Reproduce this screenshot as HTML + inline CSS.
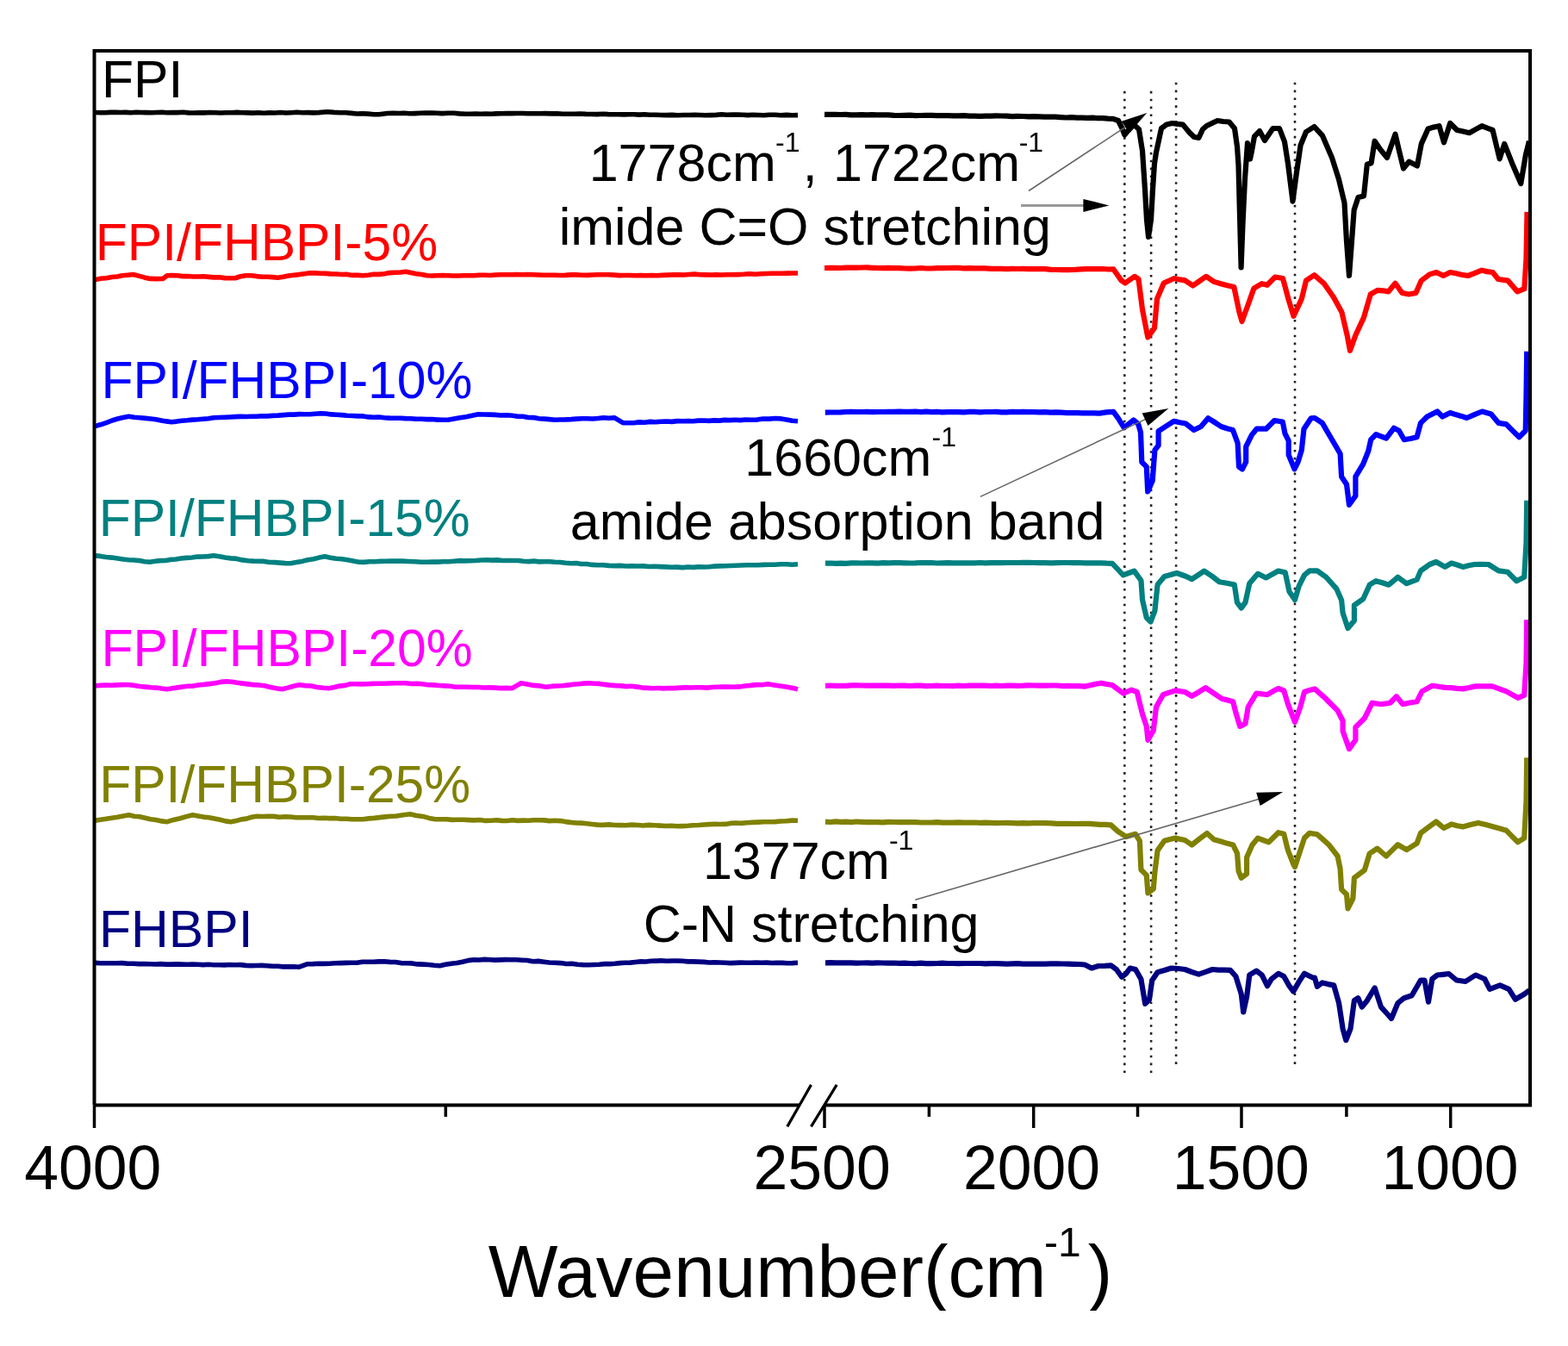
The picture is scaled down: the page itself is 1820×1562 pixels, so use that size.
<!DOCTYPE html>
<html><head><meta charset="utf-8"><title>FTIR spectra</title>
<style>html,body{margin:0;padding:0;background:#fff;overflow:hidden;}svg{display:block;}</style>
</head><body>
<svg width="1820" height="1562" viewBox="0 0 1820 1562">
<defs><clipPath id="clipb"><rect x="0" y="0" width="1820" height="1521"/></clipPath><clipPath id="plot"><rect x="111" y="61" width="1663" height="1220"/></clipPath></defs>
<rect width="1820" height="1562" fill="#fff"/>
<line x1="1305.3" y1="105.8" x2="1305.3" y2="1245.5" stroke="#222" stroke-width="2.6" stroke-dasharray="2.6 6.28"/>
<line x1="1336.1" y1="105.8" x2="1336.1" y2="1245.5" stroke="#222" stroke-width="2.6" stroke-dasharray="2.6 6.28"/>
<line x1="1365.1" y1="95.7" x2="1365.1" y2="1235.4" stroke="#222" stroke-width="2.6" stroke-dasharray="2.6 6.28"/>
<line x1="1503.0" y1="95.7" x2="1503.0" y2="1235.4" stroke="#222" stroke-width="2.6" stroke-dasharray="2.6 6.28"/>
<g fill="none" stroke-width="6.2" stroke-linejoin="round" stroke-linecap="butt" clip-path="url(#plot)">
<path d="M110.0,130.5 L116.0,130.8 L122.0,130.7 L128.0,130.4 L134.0,130.3 L140.0,130.5 L146.0,130.4 L152.0,130.7 L158.0,130.3 L164.0,130.5 L170.0,130.6 L176.0,130.8 L182.0,130.5 L188.0,130.3 L194.0,130.7 L200.0,130.5 L206.2,130.6 L212.5,130.3 L218.8,130.9 L225.0,131.0 L231.2,130.8 L237.5,130.9 L243.8,130.5 L250.0,130.8 L256.2,131.0 L262.5,130.8 L268.8,130.7 L275.0,130.4 L281.2,130.7 L287.5,130.9 L293.8,131.1 L300.0,130.8 L306.4,131.2 L312.7,130.7 L319.1,131.0 L325.5,130.5 L331.8,131.0 L338.2,130.7 L344.5,130.3 L350.9,130.8 L357.3,130.6 L363.6,130.9 L370.0,130.6 L380.0,129.8 L387.5,130.4 L395.0,130.8 L401.4,130.7 L407.9,131.4 L414.3,132.0 L420.7,131.7 L427.1,132.1 L433.6,132.8 L440.0,132.8 L450.0,131.5 L456.4,131.2 L462.7,131.5 L469.1,131.2 L475.5,131.8 L481.8,131.6 L488.2,131.3 L494.5,131.0 L500.9,131.1 L507.3,131.3 L513.6,131.6 L520.0,131.2 L526.7,131.2 L533.3,131.9 L540.0,132.2 L546.0,132.3 L552.0,132.1 L558.0,132.2 L564.0,132.0 L570.0,132.2 L576.0,131.9 L582.0,131.8 L588.0,131.6 L594.0,131.6 L600.0,131.5 L606.7,131.5 L613.3,131.8 L620.0,131.8 L626.7,131.7 L633.3,131.6 L640.0,131.9 L646.7,131.7 L653.3,132.2 L660.0,132.3 L666.7,132.2 L673.3,132.0 L680.0,132.4 L686.7,132.5 L693.3,132.6 L700.0,132.2 L706.0,132.6 L712.0,132.7 L718.0,132.8 L724.0,132.9 L730.0,132.7 L736.0,132.7 L742.0,133.1 L748.0,132.8 L754.0,133.3 L760.0,133.2 L766.7,133.5 L773.3,133.6 L780.0,133.4 L786.7,133.8 L793.3,133.5 L800.0,133.5 L806.2,133.4 L812.5,133.5 L818.8,133.7 L825.0,133.6 L831.2,133.4 L837.5,132.8 L843.8,133.2 L850.0,133.0 L856.0,133.1 L862.0,133.3 L868.0,133.6 L874.0,133.2 L880.0,133.5 L886.6,133.7 L893.1,133.2 L899.7,133.3 L906.3,133.8 L912.9,133.4 L919.4,133.8 L926.0,133.6" stroke="#000000" stroke-width="5.6"/>
<path d="M957.0,132.8 L963.1,132.9 L969.3,132.9 L975.4,133.0 L981.6,132.9 L987.7,133.3 L993.9,133.3 L1000.0,133.2 L1006.2,133.4 L1012.5,133.1 L1018.8,133.4 L1025.0,133.4 L1031.2,133.4 L1037.5,133.9 L1043.8,134.0 L1050.0,133.8 L1056.2,133.6 L1062.5,134.1 L1068.8,134.0 L1075.0,133.9 L1081.2,133.9 L1087.5,134.2 L1093.8,134.1 L1100.0,134.2 L1106.2,134.4 L1112.5,134.4 L1118.8,134.1 L1125.0,134.6 L1131.2,134.7 L1137.5,134.8 L1143.8,134.6 L1150.0,134.6 L1156.2,134.4 L1162.5,134.5 L1168.8,134.6 L1175.0,135.2 L1181.2,134.9 L1187.5,135.0 L1193.8,135.4 L1200.0,135.2 L1206.2,135.3 L1212.5,135.6 L1218.8,135.7 L1225.0,135.6 L1231.2,136.1 L1237.5,136.5 L1243.8,136.2 L1250.0,136.6 L1256.0,136.6 L1262.0,136.8 L1268.0,136.7 L1274.0,137.1 L1280.0,137.2 L1286.0,137.7 L1292.0,137.8 L1298.0,140.0 L1302.0,148.0 L1305.3,156.5 L1309.0,152.0 L1316.0,144.6 L1322.0,150.0 L1326.0,175.0 L1329.0,220.0 L1331.0,255.0 L1333.0,275.0 L1336.0,255.0 L1338.0,220.0 L1340.0,190.0 L1342.0,176.8 L1348.0,149.0 L1354.0,144.5 L1360.6,143.0 L1366.8,143.9 L1373.0,144.6 L1380.6,153.8 L1386.0,159.0 L1391.4,160.0 L1396.0,150.0 L1400.6,146.0 L1406.8,143.0 L1413.0,140.0 L1419.8,141.0 L1426.7,141.5 L1433.0,149.0 L1436.0,170.0 L1437.5,192.0 L1439.0,250.0 L1440.6,310.5 L1442.5,260.0 L1445.0,207.6 L1448.0,166.0 L1451.0,184.5 L1453.0,175.0 L1456.0,158.4 L1462.0,152.0 L1468.0,163.0 L1477.5,149.0 L1485.0,149.0 L1491.0,164.5 L1495.0,190.0 L1500.5,233.7 L1505.0,200.0 L1509.6,168.5 L1516.0,153.0 L1525.5,147.0 L1535.0,157.4 L1546.0,182.9 L1554.0,208.3 L1560.5,235.4 L1563.0,280.0 L1566.0,319.9 L1569.0,280.0 L1571.7,243.4 L1576.5,229.0 L1583.0,227.5 L1586.8,190.8 L1591.6,189.2 L1595.6,163.7 L1602.0,173.3 L1610.0,182.9 L1619.5,155.8 L1624.0,175.0 L1629.0,195.6 L1635.4,187.6 L1645.0,192.4 L1649.8,166.9 L1657.7,149.4 L1664.1,147.6 L1670.5,146.2 L1676.0,165.3 L1683.2,143.0 L1691.2,151.0 L1698.3,152.6 L1705.5,154.2 L1712.8,150.1 L1720.0,146.2 L1726.3,148.7 L1732.6,151.0 L1740.6,184.4 L1746.2,166.9 L1755.0,189.2 L1765.3,213.1 L1770.9,179.7 L1774.9,163.7" stroke="#000000"/>
<path d="M110.0,324.7 L116.7,323.3 L123.3,322.8 L130.0,321.5 L136.1,321.0 L142.2,319.8 L148.3,319.2 L154.4,318.5 L160.9,320.1 L167.5,321.9 L174.0,323.4 L181.5,323.6 L189.0,323.4 L194.0,319.7 L200.0,319.6 L206.0,319.8 L212.0,320.6 L218.0,320.5 L224.0,321.0 L230.0,321.0 L236.1,320.8 L242.3,321.4 L248.4,321.9 L254.6,321.8 L260.7,322.6 L266.9,322.8 L273.0,322.7 L279.2,320.8 L285.5,319.7 L291.7,319.7 L297.8,320.6 L304.0,321.3 L310.2,321.3 L316.3,321.6 L322.5,322.2 L328.7,321.2 L334.9,320.0 L341.1,319.3 L347.2,318.6 L353.4,317.7 L359.6,316.8 L365.8,316.9 L372.0,317.2 L378.1,317.4 L384.3,317.9 L390.5,318.0 L396.7,318.5 L402.9,318.4 L409.1,319.4 L415.3,319.4 L421.5,319.7 L427.7,319.3 L433.9,318.3 L440.1,318.4 L446.2,317.8 L452.4,316.6 L458.6,316.3 L464.8,316.0 L471.0,315.3 L477.1,316.6 L483.3,317.8 L489.5,318.5 L495.6,319.7 L501.6,320.0 L507.7,319.8 L513.7,319.5 L519.8,319.8 L525.8,320.0 L531.9,320.0 L537.9,319.7 L544.0,319.8 L550.0,319.7 L556.2,319.2 L562.5,319.2 L568.8,319.5 L575.0,319.0 L581.2,318.7 L587.5,318.8 L593.8,318.8 L600.0,318.5 L606.2,318.8 L612.5,318.6 L618.8,318.8 L625.0,319.0 L631.2,319.3 L637.5,319.3 L643.8,319.3 L650.0,319.5 L656.2,319.4 L662.5,318.9 L668.8,318.9 L675.0,319.3 L681.2,319.4 L687.5,319.0 L693.8,318.8 L700.0,318.8 L706.2,318.7 L712.5,319.1 L718.8,319.6 L725.0,319.5 L731.2,319.5 L737.5,319.8 L743.8,319.5 L750.0,319.8 L756.2,319.6 L762.5,319.8 L768.8,319.4 L775.0,319.1 L781.2,318.8 L787.5,318.9 L793.8,319.0 L800.0,318.5 L806.2,318.1 L812.5,318.8 L818.8,318.9 L825.0,319.0 L831.2,318.9 L837.5,319.0 L843.8,318.8 L850.0,318.8 L856.7,318.6 L863.3,318.3 L870.0,317.8 L876.7,318.2 L883.3,317.8 L890.0,317.5 L896.0,317.2 L902.0,317.3 L908.0,317.2 L914.0,317.1 L920.0,317.0 L926.0,317.0" stroke="#ff0000" stroke-width="5.6"/>
<path d="M957.0,311.0 L963.1,310.9 L969.3,310.9 L975.4,311.0 L981.6,310.7 L987.7,310.6 L993.9,310.6 L1000.0,310.5 L1006.2,310.4 L1012.5,310.8 L1018.8,311.0 L1025.0,311.2 L1031.2,310.9 L1037.5,311.1 L1043.8,311.1 L1050.0,311.5 L1056.2,311.6 L1062.5,311.5 L1068.8,311.0 L1075.0,311.5 L1081.2,311.5 L1087.5,311.2 L1093.8,311.1 L1100.0,311.0 L1106.2,310.9 L1112.5,310.9 L1118.8,311.3 L1125.0,311.1 L1131.2,311.3 L1137.5,311.4 L1143.8,311.4 L1150.0,311.8 L1156.2,311.8 L1162.5,311.8 L1168.8,312.1 L1175.0,311.9 L1181.2,312.0 L1187.5,311.9 L1193.8,312.1 L1200.0,312.0 L1206.7,312.2 L1213.3,312.2 L1220.0,312.8 L1226.7,313.0 L1233.3,313.1 L1240.0,313.1 L1247.7,312.8 L1255.4,312.3 L1261.6,312.2 L1267.7,312.1 L1273.8,312.2 L1280.0,312.0 L1286.2,312.5 L1292.3,312.3 L1301.5,325.4 L1306.0,328.5 L1317.0,320.8 L1321.5,323.8 L1326.0,359.2 L1332.3,391.5 L1340.0,380.8 L1343.0,346.9 L1350.8,328.5 L1356.9,325.7 L1363.0,323.0 L1369.2,324.4 L1375.4,325.4 L1384.6,331.5 L1392.3,326.1 L1400.0,320.8 L1409.0,326.9 L1416.8,329.2 L1424.5,331.2 L1432.3,333.0 L1438.5,362.3 L1441.5,373.0 L1447.7,356.2 L1455.4,334.6 L1464.6,329.2 L1470.8,330.8 L1480.0,321.5 L1489.0,323.0 L1495.4,346.9 L1501.5,366.9 L1510.8,346.9 L1516.0,325.6 L1525.5,319.2 L1536.6,328.8 L1547.8,344.7 L1557.4,362.3 L1563.7,389.3 L1567.0,406.9 L1573.3,389.3 L1582.9,368.6 L1590.8,341.5 L1598.8,336.8 L1605.2,337.3 L1611.5,338.4 L1619.5,328.8 L1627.5,340.0 L1635.4,341.5 L1643.4,340.0 L1649.8,325.6 L1659.3,318.4 L1667.3,316.0 L1675.3,320.0 L1683.2,316.0 L1690.1,317.2 L1697.1,318.9 L1704.0,320.0 L1712.0,316.8 L1719.9,313.7 L1726.2,315.1 L1732.6,316.0 L1739.0,324.0 L1750.2,325.6 L1761.3,338.4 L1769.3,335.2 L1771.5,300.0 L1772.5,245.9" stroke="#ff0000"/>
<path d="M110.0,494.6 L116.7,492.8 L123.3,490.6 L130.0,488.0 L136.5,486.0 L143.0,484.5 L149.5,483.2 L155.9,484.2 L162.2,484.8 L168.6,485.4 L175.0,486.0 L181.0,486.8 L187.0,487.9 L193.0,488.9 L199.0,489.7 L205.1,489.1 L211.2,488.2 L217.4,487.8 L223.5,487.1 L229.6,486.8 L235.8,486.3 L241.9,485.7 L248.0,484.7 L254.2,484.5 L260.5,484.3 L266.8,484.0 L273.0,483.6 L279.2,483.4 L285.5,483.5 L291.8,483.2 L298.0,483.2 L304.2,482.8 L310.3,482.9 L316.5,482.4 L322.7,482.1 L328.8,481.6 L335.0,481.1 L341.2,481.1 L347.3,480.6 L353.5,480.7 L359.7,480.8 L365.8,480.2 L372.0,479.8 L378.2,480.0 L384.3,480.9 L390.5,481.3 L396.7,481.6 L402.8,482.2 L409.0,482.5 L415.2,482.9 L421.3,482.9 L427.5,483.9 L433.7,484.3 L439.8,484.0 L446.0,484.7 L452.2,485.1 L458.3,485.3 L464.5,485.3 L470.7,485.6 L476.8,485.7 L483.0,486.3 L489.2,486.2 L495.3,486.6 L501.5,486.5 L507.7,487.1 L513.8,487.3 L520.0,487.2 L527.0,485.9 L534.0,484.7 L541.0,483.7 L548.0,482.3 L555.0,480.8 L561.6,481.0 L568.2,481.1 L574.8,481.4 L581.4,482.0 L588.0,481.8 L594.6,482.3 L600.8,483.2 L607.0,483.3 L613.1,484.5 L619.3,484.6 L625.5,485.7 L631.6,486.1 L637.8,486.6 L644.0,487.2 L650.3,487.0 L656.5,486.9 L662.8,486.6 L669.1,486.1 L675.4,485.8 L681.6,485.8 L687.9,486.0 L694.2,485.5 L700.5,484.8 L706.7,485.2 L713.0,484.7 L723.0,490.7 L729.3,490.7 L735.6,490.7 L741.9,489.9 L748.2,490.2 L754.5,489.4 L760.9,489.7 L767.2,489.2 L773.5,489.0 L779.8,489.4 L786.1,488.6 L792.4,488.7 L798.5,488.6 L804.6,488.8 L810.7,488.1 L816.7,488.0 L822.8,488.4 L828.9,487.9 L835.0,488.1 L841.1,487.4 L847.2,487.6 L853.2,487.3 L859.3,487.6 L865.4,487.0 L871.5,487.2 L878.6,487.1 L885.8,486.0 L892.9,486.1 L900.0,485.5 L906.5,485.9 L913.0,486.9 L919.5,488.2 L926.0,488.7" stroke="#0000ff" stroke-width="5.6"/>
<path d="M957.8,478.6 L963.8,478.5 L969.9,478.5 L975.9,478.4 L981.9,478.0 L987.9,477.9 L994.0,478.0 L1000.0,478.0 L1006.2,477.8 L1012.5,478.1 L1018.8,478.0 L1025.0,478.0 L1031.2,477.9 L1037.5,477.9 L1043.8,477.6 L1050.0,477.8 L1056.2,477.8 L1062.5,477.7 L1068.8,478.2 L1075.0,477.7 L1081.2,478.2 L1087.5,477.8 L1093.8,478.3 L1100.0,478.2 L1106.2,478.1 L1112.5,478.1 L1118.8,478.3 L1125.0,477.8 L1131.2,477.8 L1137.5,478.3 L1143.8,478.0 L1150.0,478.0 L1156.2,477.8 L1162.5,478.3 L1168.8,478.3 L1175.0,477.9 L1181.2,478.1 L1187.5,477.9 L1193.8,478.1 L1200.0,478.2 L1206.3,478.4 L1212.7,478.2 L1219.0,478.7 L1225.3,478.4 L1231.7,478.6 L1238.0,479.1 L1244.3,479.0 L1250.7,479.1 L1257.0,479.3 L1263.3,479.4 L1269.7,479.4 L1276.0,479.6 L1284.2,478.4 L1292.4,477.8 L1297.9,485.3 L1304.7,496.3 L1315.7,487.4 L1321.2,492.2 L1324.0,501.8 L1325.3,536.2 L1330.8,541.6 L1332.2,570.5 L1337.7,558.1 L1340.4,522.4 L1344.6,516.9 L1344.6,500.4 L1352.8,495.0 L1362.4,488.8 L1369.3,490.3 L1376.2,491.5 L1385.8,499.0 L1394.0,495.0 L1402.3,485.3 L1409.0,489.5 L1417.4,495.0 L1424.2,497.3 L1431.0,499.0 L1436.6,514.2 L1438.0,541.6 L1442.0,544.4 L1446.2,536.2 L1446.2,518.3 L1453.0,504.6 L1458.6,497.7 L1469.6,497.7 L1479.2,488.0 L1488.8,489.5 L1491.5,503.2 L1495.7,511.4 L1495.7,527.9 L1502.5,544.4 L1506.6,536.2 L1510.8,522.4 L1513.5,497.7 L1521.8,485.3 L1526.0,485.0 L1534.8,490.9 L1545.2,508.7 L1555.6,526.5 L1557.1,553.2 L1563.0,562.0 L1566.0,585.8 L1573.4,575.4 L1573.4,553.2 L1582.3,538.3 L1588.2,523.5 L1591.2,510.2 L1597.1,504.2 L1609.0,508.7 L1617.9,496.8 L1623.8,499.8 L1629.8,510.2 L1637.2,509.0 L1644.6,507.2 L1649.0,490.9 L1656.5,483.5 L1668.3,477.5 L1674.3,483.5 L1683.2,479.0 L1689.6,481.1 L1696.1,482.9 L1702.5,485.0 L1711.4,481.2 L1720.3,477.5 L1730.7,480.5 L1739.5,490.9 L1748.4,492.4 L1755.8,499.9 L1763.3,507.2 L1770.7,499.8 L1771.5,460.0 L1772.2,407.8" stroke="#0000ff"/>
<path d="M110.0,644.8 L116.6,645.4 L123.2,646.5 L129.8,647.1 L136.3,648.1 L142.9,649.0 L149.5,649.7 L155.6,650.0 L161.8,650.6 L167.9,651.8 L174.0,652.2 L180.0,651.3 L186.0,650.6 L192.0,650.5 L198.0,649.4 L204.0,649.0 L210.0,648.0 L216.3,647.4 L222.7,647.0 L229.0,646.1 L235.3,646.0 L241.7,645.6 L248.0,644.8 L254.7,645.8 L261.3,647.0 L268.0,647.9 L274.7,648.4 L281.3,649.9 L288.0,650.7 L294.2,651.1 L300.4,651.3 L306.5,651.4 L312.7,652.5 L318.9,652.6 L325.0,653.1 L331.2,653.6 L337.4,653.7 L344.0,652.6 L350.6,651.4 L357.2,649.7 L363.8,648.7 L370.4,647.1 L377.0,645.8 L383.6,647.2 L390.2,648.2 L396.8,648.7 L403.3,649.8 L409.9,650.9 L416.5,652.2 L422.7,652.4 L428.9,651.8 L435.1,651.8 L441.4,651.4 L447.6,651.3 L453.8,651.1 L460.0,651.0 L467.1,651.1 L474.2,651.5 L481.4,651.8 L488.5,652.3 L495.6,652.2 L501.9,652.1 L508.2,652.1 L514.5,651.8 L520.8,651.7 L527.1,651.2 L533.5,650.6 L539.8,650.9 L546.1,650.8 L552.4,650.5 L558.7,650.0 L565.0,649.7 L571.1,650.1 L577.2,649.9 L583.2,650.5 L589.3,650.5 L595.4,650.5 L601.5,650.5 L607.5,651.3 L613.6,651.6 L619.7,651.1 L625.8,651.9 L631.8,651.7 L637.9,651.7 L644.0,652.2 L650.2,652.5 L656.4,653.3 L662.6,653.8 L668.8,653.6 L674.9,654.5 L681.1,654.5 L687.3,655.4 L693.5,655.7 L700.1,655.8 L706.8,656.4 L713.4,656.6 L720.1,656.4 L726.7,657.0 L733.4,656.7 L740.0,657.0 L746.5,656.9 L753.1,657.5 L759.6,657.2 L766.2,657.6 L772.8,657.9 L779.3,658.3 L785.9,658.1 L792.4,658.6 L798.6,658.0 L804.8,658.4 L811.0,657.7 L817.1,658.0 L823.3,657.7 L829.5,657.1 L835.7,656.9 L841.9,656.7 L848.0,656.5 L854.2,656.3 L860.4,656.0 L866.6,655.7 L873.2,655.7 L879.8,655.8 L886.4,655.4 L893.0,655.2 L899.6,655.3 L906.2,654.8 L912.8,654.8 L919.4,655.2 L926.0,654.7" stroke="#008080" stroke-width="5.6"/>
<path d="M958.0,653.7 L964.0,653.5 L970.0,653.8 L976.0,653.7 L982.0,653.8 L988.0,653.4 L994.0,653.4 L1000.0,653.5 L1006.2,653.3 L1012.5,653.3 L1018.8,653.6 L1025.0,653.2 L1031.2,653.4 L1037.5,653.2 L1043.8,653.2 L1050.0,653.3 L1056.2,653.5 L1062.5,653.4 L1068.8,653.0 L1075.0,653.1 L1081.2,653.0 L1087.5,653.5 L1093.8,653.4 L1100.0,653.2 L1106.2,653.4 L1112.5,653.4 L1118.8,653.3 L1125.0,653.4 L1131.2,653.3 L1137.5,653.0 L1143.8,653.3 L1150.0,653.1 L1156.2,653.2 L1162.5,653.1 L1168.8,653.0 L1175.0,653.0 L1181.2,653.0 L1187.5,652.9 L1193.8,652.8 L1200.0,653.0 L1206.7,653.2 L1213.3,653.2 L1220.0,653.3 L1226.7,653.1 L1233.3,653.0 L1240.0,653.0 L1246.4,653.2 L1252.8,653.0 L1259.1,653.4 L1265.5,653.4 L1271.9,653.3 L1278.2,653.4 L1284.6,653.7 L1291.0,653.8 L1297.3,660.5 L1303.7,667.4 L1310.1,665.0 L1316.5,662.6 L1324.5,673.7 L1326.0,696.0 L1330.8,716.8 L1335.6,721.5 L1340.4,708.8 L1343.6,678.5 L1351.5,669.0 L1358.7,667.1 L1365.9,665.0 L1377.0,669.0 L1383.4,672.1 L1390.6,667.3 L1397.7,662.6 L1407.3,669.0 L1415.3,675.3 L1424.0,676.7 L1432.8,678.5 L1436.0,699.2 L1440.8,705.6 L1445.5,699.2 L1450.3,677.0 L1460.0,665.8 L1469.4,670.5 L1476.6,666.5 L1483.8,662.6 L1491.7,664.2 L1496.5,686.5 L1503.0,696.0 L1507.7,680.1 L1514.0,667.4 L1520.0,662.4 L1528.9,662.4 L1539.3,669.8 L1551.2,683.1 L1557.1,696.5 L1558.6,711.3 L1564.5,729.1 L1571.9,720.2 L1571.9,702.4 L1582.3,695.0 L1589.7,678.7 L1597.1,674.2 L1604.5,676.3 L1612.0,678.7 L1622.4,669.8 L1632.7,677.2 L1644.6,672.7 L1649.0,662.4 L1659.4,655.0 L1666.9,652.0 L1677.2,657.9 L1684.7,653.5 L1691.3,655.5 L1698.0,657.9 L1704.7,656.3 L1711.4,655.0 L1719.6,654.9 L1727.7,655.0 L1739.5,662.4 L1749.9,663.8 L1760.3,674.2 L1769.2,669.8 L1771.5,630.0 L1772.2,580.8" stroke="#008080"/>
<path d="M110.0,795.8 L116.6,795.4 L123.2,795.1 L129.8,795.2 L136.3,794.9 L142.9,794.6 L149.5,794.8 L155.9,795.4 L162.2,796.5 L168.6,797.1 L174.9,797.8 L181.3,798.1 L187.6,799.0 L194.0,799.7 L200.0,798.7 L206.0,797.9 L212.0,797.0 L218.0,796.3 L224.0,796.1 L230.0,795.0 L236.6,794.4 L243.2,793.6 L249.8,792.7 L256.4,791.4 L263.0,790.8 L269.2,791.3 L275.3,792.3 L281.5,793.1 L287.7,793.9 L293.8,794.6 L300.0,795.0 L306.9,795.8 L313.8,797.4 L320.6,798.7 L327.5,799.7 L334.1,798.1 L340.7,796.2 L347.3,794.8 L354.2,795.6 L361.2,796.0 L368.1,797.5 L375.1,798.2 L382.0,798.7 L388.1,797.5 L394.3,796.1 L400.5,795.4 L406.6,793.8 L413.0,793.8 L419.5,793.9 L425.9,793.8 L432.4,793.4 L438.8,793.2 L445.2,793.3 L451.7,793.0 L458.1,792.7 L464.6,792.7 L471.0,792.8 L477.4,793.5 L483.8,793.3 L490.2,793.8 L496.6,794.7 L503.0,794.9 L509.4,795.5 L515.8,795.9 L522.2,796.3 L528.6,797.2 L535.0,797.3 L541.6,797.2 L548.2,797.5 L554.9,797.5 L561.5,798.0 L568.1,797.9 L574.7,798.1 L581.4,798.6 L588.0,798.4 L594.6,798.7 L604.5,792.8 L611.9,794.0 L619.2,795.4 L626.6,795.9 L634.0,797.3 L640.2,796.4 L646.4,796.0 L652.6,795.8 L658.8,795.1 L665.0,794.3 L671.2,793.8 L677.4,793.1 L683.6,792.8 L689.8,793.3 L696.0,793.4 L702.1,794.4 L708.3,795.1 L714.5,795.6 L720.7,795.9 L726.9,796.6 L733.1,796.3 L739.2,797.1 L745.4,798.1 L751.6,798.4 L757.8,798.7 L764.1,798.5 L770.3,798.9 L776.6,798.5 L782.8,798.6 L789.1,798.1 L795.4,797.9 L801.6,798.0 L807.9,797.7 L814.1,797.8 L820.4,798.1 L826.7,797.5 L832.9,797.2 L839.2,797.1 L845.4,797.1 L851.7,797.3 L858.3,796.9 L864.9,796.0 L871.5,795.4 L878.1,794.6 L884.7,794.8 L891.3,793.8 L898.2,794.9 L905.2,795.9 L912.1,797.0 L919.1,798.2 L926.0,799.7" stroke="#ff00ff" stroke-width="5.6"/>
<path d="M958.0,795.8 L964.0,795.5 L970.0,795.8 L976.0,795.8 L982.0,795.9 L988.0,795.4 L994.0,795.4 L1000.0,795.5 L1006.2,795.7 L1012.5,795.7 L1018.8,795.5 L1025.0,795.7 L1031.2,795.6 L1037.5,795.9 L1043.8,795.5 L1050.0,795.6 L1056.2,796.0 L1062.5,795.7 L1068.8,795.7 L1075.0,796.1 L1081.2,796.0 L1087.5,795.7 L1093.8,796.0 L1100.0,796.0 L1106.2,796.1 L1112.5,795.7 L1118.8,796.0 L1125.0,795.6 L1131.2,795.7 L1137.5,795.6 L1143.8,795.6 L1150.0,796.0 L1156.2,795.7 L1162.5,796.0 L1168.8,795.6 L1175.0,795.7 L1181.2,795.8 L1187.5,795.7 L1193.8,795.3 L1200.0,795.5 L1206.7,795.6 L1213.3,795.7 L1220.0,795.5 L1226.7,795.5 L1233.3,796.1 L1240.0,795.9 L1246.3,796.1 L1252.7,796.2 L1259.0,796.6 L1265.4,795.3 L1271.8,793.8 L1278.2,792.7 L1284.6,794.0 L1291.0,795.0 L1297.3,799.8 L1303.7,804.6 L1313.3,800.6 L1319.7,803.0 L1326.0,828.5 L1330.8,842.9 L1332.4,858.8 L1338.8,847.6 L1342.0,820.5 L1350.0,806.2 L1357.2,803.6 L1364.3,801.4 L1375.4,803.0 L1383.4,807.8 L1391.3,803.2 L1399.3,798.2 L1409.0,804.6 L1418.5,811.0 L1424.8,812.4 L1431.2,814.2 L1434.4,826.9 L1439.2,842.9 L1445.5,839.7 L1448.7,820.5 L1458.3,804.6 L1464.7,805.3 L1471.0,806.2 L1477.4,802.3 L1483.8,799.0 L1490.2,801.4 L1495.0,817.4 L1503.0,838.0 L1509.3,820.5 L1514.0,803.0 L1520.0,800.9 L1526.0,799.4 L1537.8,809.8 L1545.2,817.3 L1552.6,824.6 L1558.6,836.5 L1558.6,848.3 L1566.0,869.1 L1573.4,858.7 L1573.4,843.9 L1583.8,833.5 L1592.7,815.7 L1603.0,817.2 L1613.5,815.7 L1620.9,808.3 L1628.3,817.2 L1636.4,815.5 L1644.6,814.2 L1650.5,802.4 L1662.4,795.7 L1669.8,796.8 L1677.2,797.9 L1684.1,798.2 L1691.1,798.9 L1698.0,799.4 L1705.4,798.0 L1712.8,796.4 L1719.2,796.4 L1725.6,796.4 L1732.0,796.4 L1740.2,799.4 L1748.5,802.4 L1755.2,806.1 L1761.8,809.8 L1769.2,806.8 L1771.5,770.0 L1772.2,719.3" stroke="#ff00ff"/>
<path d="M110.0,952.2 L116.6,951.2 L123.2,950.3 L129.8,949.2 L136.3,948.3 L142.9,947.1 L149.5,945.8 L155.9,947.3 L162.2,947.7 L168.6,949.2 L174.9,950.7 L181.3,951.6 L187.6,952.9 L194.0,953.7 L201.4,951.4 L208.8,949.7 L216.2,947.6 L223.6,945.8 L229.9,947.0 L236.3,948.1 L242.6,948.8 L249.0,950.1 L255.3,951.3 L261.7,952.9 L268.0,953.7 L274.0,952.6 L280.0,950.9 L286.0,950.1 L292.0,948.3 L298.0,947.3 L304.6,947.5 L311.1,947.3 L317.7,947.4 L324.2,948.2 L330.8,947.8 L337.3,948.0 L343.9,948.8 L350.4,948.8 L357.0,948.7 L363.4,948.7 L369.9,949.5 L376.4,949.3 L382.8,949.6 L389.2,949.5 L395.7,950.3 L402.1,950.3 L408.6,950.7 L415.1,950.8 L421.5,950.7 L427.9,949.9 L434.3,949.4 L440.8,948.6 L447.2,947.9 L453.6,947.3 L460.0,947.0 L468.0,945.7 L476.0,944.8 L483.4,946.4 L490.8,947.4 L498.1,949.4 L505.5,950.7 L511.9,950.7 L518.4,950.8 L524.9,951.4 L531.3,951.3 L537.8,951.3 L544.2,951.6 L550.6,951.9 L557.1,951.5 L563.5,952.4 L570.0,952.2 L576.2,951.8 L582.3,952.4 L588.5,952.5 L594.7,951.8 L600.8,952.4 L607.0,952.1 L613.2,952.3 L619.3,951.8 L625.5,951.8 L631.7,951.9 L637.8,952.6 L644.0,952.2 L650.2,952.6 L656.4,953.6 L662.6,954.4 L668.8,955.0 L674.9,955.1 L681.1,955.8 L687.3,956.5 L693.5,957.1 L700.1,957.4 L706.8,956.9 L713.4,957.5 L720.1,957.6 L726.7,957.7 L733.4,957.1 L740.0,957.5 L746.5,958.0 L753.1,957.4 L759.6,957.8 L766.2,958.1 L772.8,958.5 L779.3,958.2 L785.9,958.8 L792.4,958.6 L798.6,958.3 L804.8,957.8 L811.0,957.5 L817.1,957.0 L823.3,956.6 L829.5,956.4 L835.7,956.5 L841.9,956.4 L848.0,955.4 L854.2,955.0 L860.4,955.4 L866.6,954.7 L873.2,954.4 L879.8,954.1 L886.4,953.7 L893.0,953.7 L899.6,953.6 L906.2,953.0 L912.8,952.7 L919.4,952.1 L926.0,952.2" stroke="#808000" stroke-width="5.6"/>
<path d="M958.0,953.7 L964.0,954.0 L970.0,953.4 L976.0,953.9 L982.0,953.6 L988.0,954.1 L994.0,953.5 L1000.0,953.8 L1006.2,954.1 L1012.5,954.0 L1018.8,954.1 L1025.0,954.3 L1031.2,953.9 L1037.5,954.0 L1043.8,954.2 L1050.0,954.0 L1056.2,954.1 L1062.5,954.1 L1068.8,954.5 L1075.0,954.5 L1081.2,954.5 L1087.5,954.2 L1093.8,954.7 L1100.0,954.5 L1106.2,954.6 L1112.5,954.4 L1118.8,954.6 L1125.0,954.6 L1131.2,954.5 L1137.5,954.8 L1143.8,954.7 L1150.0,954.9 L1156.2,955.2 L1162.5,955.0 L1168.8,954.9 L1175.0,955.2 L1181.2,955.4 L1187.5,955.1 L1193.8,955.4 L1200.0,955.2 L1206.7,955.0 L1213.3,955.2 L1220.0,955.4 L1226.7,955.9 L1233.3,955.9 L1240.0,955.9 L1248.0,956.0 L1255.9,955.8 L1263.9,955.9 L1270.3,956.3 L1276.7,956.9 L1283.0,956.8 L1289.4,957.4 L1297.4,964.6 L1307.0,971.0 L1318.0,967.8 L1322.9,975.8 L1324.4,1009.2 L1330.8,1015.6 L1332.4,1036.3 L1338.8,1031.5 L1340.4,1012.4 L1343.6,986.9 L1351.5,975.8 L1357.9,974.0 L1364.3,972.6 L1375.4,975.0 L1383.4,980.5 L1392.2,973.5 L1401.0,967.0 L1409.0,974.2 L1416.4,976.3 L1423.8,978.6 L1431.2,980.5 L1436.0,990.1 L1437.6,1010.8 L1440.8,1018.8 L1447.1,1014.0 L1447.1,994.9 L1453.5,980.5 L1459.9,972.6 L1466.2,975.0 L1472.6,977.4 L1483.8,966.2 L1490.2,967.8 L1495.0,986.9 L1501.3,1002.9 L1503.0,1006.0 L1509.3,986.9 L1514.0,972.6 L1520.0,966.8 L1528.9,968.3 L1535.6,974.2 L1542.3,980.2 L1552.6,993.5 L1555.6,1008.3 L1557.1,1032.1 L1563.0,1038.0 L1564.5,1054.3 L1570.4,1042.5 L1571.9,1018.7 L1583.8,1009.8 L1589.7,990.5 L1598.6,984.6 L1609.0,993.5 L1615.7,986.9 L1622.4,980.2 L1632.7,986.1 L1644.6,978.7 L1649.0,966.8 L1658.0,960.0 L1666.9,953.5 L1675.8,960.9 L1684.7,956.4 L1691.3,958.2 L1698.0,959.4 L1706.9,957.1 L1715.8,954.9 L1724.7,957.0 L1733.6,959.4 L1741.0,961.5 L1748.5,963.8 L1755.2,970.7 L1761.8,977.2 L1769.2,972.7 L1771.5,930.0 L1772.2,879.3" stroke="#808000"/>
<path d="M110.0,1117.3 L116.4,1117.7 L122.8,1117.8 L129.2,1117.7 L135.6,1117.7 L142.0,1117.6 L148.4,1118.3 L154.8,1118.3 L161.2,1118.6 L167.6,1118.5 L174.0,1118.7 L180.2,1119.0 L186.4,1118.6 L192.6,1119.1 L198.8,1119.1 L204.9,1118.9 L211.1,1119.1 L217.3,1119.3 L223.5,1119.0 L229.7,1119.3 L235.9,1119.6 L242.1,1119.2 L248.2,1119.7 L254.4,1119.7 L260.6,1119.9 L266.8,1119.5 L273.0,1119.7 L279.2,1119.6 L285.4,1120.4 L291.6,1120.6 L297.8,1120.5 L304.0,1120.4 L310.1,1120.7 L316.3,1121.3 L322.5,1121.2 L328.7,1121.9 L334.9,1121.9 L341.1,1121.8 L347.3,1122.2 L357.0,1118.7 L363.4,1118.6 L369.7,1118.2 L376.1,1118.4 L382.4,1118.2 L388.8,1117.7 L395.1,1117.6 L401.5,1117.4 L407.9,1117.3 L414.2,1117.2 L420.6,1116.3 L426.9,1116.3 L433.3,1116.3 L439.6,1115.9 L446.0,1115.8 L452.4,1116.4 L458.9,1116.5 L465.4,1117.6 L471.8,1117.8 L478.2,1117.9 L484.7,1118.9 L491.1,1119.1 L497.6,1119.5 L504.1,1120.2 L510.5,1120.7 L517.1,1119.3 L523.7,1118.2 L530.2,1117.5 L536.8,1116.3 L543.4,1114.6 L550.0,1113.8 L556.2,1114.0 L562.4,1113.4 L568.6,1113.7 L574.8,1114.1 L580.9,1113.9 L587.1,1113.6 L593.3,1113.7 L599.5,1113.8 L605.9,1114.2 L612.2,1114.5 L618.6,1115.7 L624.9,1115.4 L631.3,1116.2 L637.6,1117.0 L644.0,1117.3 L650.6,1117.6 L657.2,1118.5 L663.8,1118.3 L670.4,1119.3 L677.0,1119.6 L683.6,1119.7 L689.6,1119.5 L695.6,1119.3 L701.6,1118.6 L707.6,1118.6 L713.6,1118.2 L719.6,1117.6 L725.6,1117.2 L731.6,1117.1 L737.6,1116.5 L743.6,1115.9 L749.6,1116.0 L755.6,1115.3 L761.6,1115.1 L767.6,1114.8 L773.8,1115.2 L780.0,1115.0 L786.1,1115.0 L792.3,1115.3 L798.5,1115.9 L804.7,1115.9 L810.9,1116.1 L817.1,1116.4 L823.2,1117.0 L829.4,1116.7 L835.6,1117.0 L841.8,1117.3 L847.8,1117.6 L853.8,1117.4 L859.8,1117.1 L865.9,1117.3 L871.9,1117.3 L877.9,1117.0 L883.9,1117.2 L889.9,1117.1 L895.9,1117.5 L901.9,1117.2 L908.0,1117.4 L914.0,1117.7 L920.0,1117.6 L926.0,1117.3" stroke="#000080" stroke-width="5.6"/>
<path d="M958.0,1117.3 L964.0,1117.2 L970.0,1117.3 L976.0,1117.3 L982.0,1117.4 L988.0,1117.4 L994.0,1117.6 L1000.0,1117.5 L1006.2,1117.4 L1012.5,1117.6 L1018.8,1117.3 L1025.0,1117.5 L1031.2,1117.6 L1037.5,1117.5 L1043.8,1117.9 L1050.0,1117.6 L1056.2,1118.0 L1062.5,1118.1 L1068.8,1117.7 L1075.0,1118.1 L1081.2,1118.1 L1087.5,1118.0 L1093.8,1117.7 L1100.0,1118.0 L1106.2,1118.0 L1112.5,1118.1 L1118.8,1118.0 L1125.0,1118.0 L1131.2,1118.0 L1137.5,1118.0 L1143.8,1118.4 L1150.0,1118.2 L1156.2,1118.2 L1162.5,1118.4 L1168.8,1118.6 L1175.0,1118.3 L1181.2,1118.1 L1187.5,1118.7 L1193.8,1118.7 L1200.0,1118.5 L1206.7,1118.7 L1213.3,1118.6 L1220.0,1118.4 L1226.7,1118.4 L1233.3,1118.5 L1240.0,1118.7 L1246.4,1118.9 L1252.7,1119.0 L1259.1,1119.5 L1267.0,1123.5 L1275.0,1121.0 L1282.2,1120.8 L1289.4,1120.3 L1295.8,1125.0 L1302.1,1133.8 L1307.0,1129.8 L1311.7,1123.5 L1318.0,1125.0 L1324.4,1136.2 L1329.2,1164.9 L1334.0,1160.1 L1337.2,1137.8 L1343.6,1128.2 L1351.5,1126.0 L1359.5,1123.5 L1367.5,1124.0 L1375.4,1125.0 L1383.4,1128.0 L1391.4,1130.6 L1399.3,1127.8 L1407.3,1125.0 L1414.2,1125.6 L1421.1,1125.6 L1428.0,1125.9 L1434.4,1133.0 L1440.8,1153.7 L1443.2,1174.5 L1447.1,1156.9 L1450.3,1131.4 L1458.3,1126.6 L1464.7,1131.4 L1471.0,1144.2 L1475.8,1136.2 L1483.8,1129.8 L1490.2,1133.0 L1496.5,1144.2 L1501.3,1150.5 L1507.7,1139.4 L1514.0,1129.8 L1523.6,1134.6 L1526.0,1134.5 L1528.9,1144.9 L1534.8,1140.4 L1541.5,1142.1 L1548.2,1143.4 L1554.1,1164.2 L1558.6,1193.8 L1562.3,1207.2 L1567.5,1193.8 L1571.9,1161.2 L1576.4,1158.2 L1580.8,1168.6 L1586.8,1161.2 L1595.7,1146.4 L1603.0,1168.6 L1609.0,1175.3 L1615.0,1182.0 L1622.4,1164.2 L1629.8,1158.2 L1638.7,1155.3 L1649.0,1137.5 L1653.5,1137.5 L1658.0,1162.7 L1662.4,1136.0 L1668.3,1131.5 L1675.0,1130.8 L1681.7,1130.0 L1690.6,1137.5 L1701.0,1139.0 L1712.8,1131.5 L1723.2,1136.0 L1729.2,1147.9 L1741.0,1143.4 L1751.4,1147.9 L1758.8,1159.7 L1769.2,1153.8 L1775.2,1149.3" stroke="#000080"/>
</g>
<g stroke="#000" stroke-width="4" fill="none">
<path d="M109.5,1282.5 V59 H1776 V1282.5 H957.5"/>
<path d="M109.5,1282.5 H927.5"/>
<path d="M109.5,1282.5 v26.5" stroke-width="3.5"/>
<path d="M517.3,1282.5 v13.5" stroke-width="3.5"/>
<path d="M957,1282.5 v26.5" stroke-width="3.5"/>
<path d="M1078.4,1282.5 v13.5" stroke-width="3.5"/>
<path d="M1199.7,1282.5 v26.5" stroke-width="3.5"/>
<path d="M1320.5,1282.5 v13.5" stroke-width="3.5"/>
<path d="M1441,1282.5 v26.5" stroke-width="3.5"/>
<path d="M1562.9,1282.5 v13.5" stroke-width="3.5"/>
<path d="M1683.7,1282.5 v26.5" stroke-width="3.5"/>
<path d="M913.8,1307.4 L941.5,1258.9 M941.5,1307.4 L971.2,1258.9" stroke-width="3.2"/>
</g>
<line x1="1194" y1="221.5" x2="1307.9" y2="146.4" stroke="#666" stroke-width="1.6"/>
<path d="M1331.3,131 L1310.7,154.2 L1301.8,140.8 Z" fill="#000"/>
<line x1="1185" y1="238.4" x2="1259.4" y2="238.4" stroke="#999" stroke-width="3"/>
<path d="M1287.4,238.4 L1257.4,245.9 L1257.4,230.9 Z" fill="#000"/>
<line x1="1137.9" y1="576.4" x2="1330.9" y2="485.9" stroke="#666" stroke-width="1.6"/>
<path d="M1356.3,474 L1332.5,494.0 L1325.7,479.5 Z" fill="#000"/>
<line x1="1062.3" y1="1044.2" x2="1462.3" y2="926.9" stroke="#666" stroke-width="1.6"/>
<path d="M1489.2,919 L1462.7,935.1 L1458.2,919.8 Z" fill="#000"/>
<text x="118.1" y="112.5" font-size="60.6" fill="#000000" font-family="Liberation Sans, Arial, sans-serif" >FPI</text>
<text x="110.8" y="301.7" font-size="60.6" fill="#ff0000" font-family="Liberation Sans, Arial, sans-serif" >FPI/FHBPI-5%</text>
<text x="117.4" y="461.8" font-size="60.6" fill="#0000ff" font-family="Liberation Sans, Arial, sans-serif" >FPI/FHBPI-10%</text>
<text x="114.7" y="622.3" font-size="60.6" fill="#008080" font-family="Liberation Sans, Arial, sans-serif" >FPI/FHBPI-15%</text>
<text x="117.6" y="773.1" font-size="60.6" fill="#ff00ff" font-family="Liberation Sans, Arial, sans-serif" >FPI/FHBPI-20%</text>
<text x="115.2" y="931.1" font-size="60.6" fill="#808000" font-family="Liberation Sans, Arial, sans-serif" >FPI/FHBPI-25%</text>
<text x="115.1" y="1098.6" font-size="60.6" fill="#000080" font-family="Liberation Sans, Arial, sans-serif" >FHBPI</text>
<text x="683.7" y="209.8" font-size="61.0" fill="#000" font-family="Liberation Sans, Arial, sans-serif" >1778cm</text>
<text x="900.1" y="176.4" font-size="32.0" fill="#000" font-family="Liberation Sans, Arial, sans-serif" >-1</text>
<text x="931.7" y="209.8" font-size="61.0" fill="#000" font-family="Liberation Sans, Arial, sans-serif" >,</text>
<text x="967.1" y="209.8" font-size="61.0" fill="#000" font-family="Liberation Sans, Arial, sans-serif" >1722cm</text>
<text x="1182.7" y="176.3" font-size="32.0" fill="#000" font-family="Liberation Sans, Arial, sans-serif" >-1</text>
<text x="648.7" y="283.8" font-size="61.0" fill="#000" font-family="Liberation Sans, Arial, sans-serif" >imide C=O stretching</text>
<text x="864.3" y="552.3" font-size="61.0" fill="#000" font-family="Liberation Sans, Arial, sans-serif" >1660cm</text>
<text x="1081.5" y="517.7" font-size="32.0" fill="#000" font-family="Liberation Sans, Arial, sans-serif" >-1</text>
<text x="661.8" y="625.8" font-size="61.0" fill="#000" font-family="Liberation Sans, Arial, sans-serif" >amide absorption band</text>
<text x="815.9" y="1019.5" font-size="61.0" fill="#000" font-family="Liberation Sans, Arial, sans-serif" >1377cm</text>
<text x="1031.9" y="986.0" font-size="32.0" fill="#000" font-family="Liberation Sans, Arial, sans-serif" >-1</text>
<text x="746.7" y="1092.7" font-size="61.0" fill="#000" font-family="Liberation Sans, Arial, sans-serif" >C-N stretching</text>
<text x="28.3" y="1380.2" font-size="71.5" fill="#000" font-family="Liberation Sans, Arial, sans-serif" >4000</text>
<text x="874.6" y="1380.2" font-size="71.5" fill="#000" font-family="Liberation Sans, Arial, sans-serif" >2500</text>
<text x="1117.9" y="1380.2" font-size="71.5" fill="#000" font-family="Liberation Sans, Arial, sans-serif" >2000</text>
<text x="1360.8" y="1380.2" font-size="71.5" fill="#000" font-family="Liberation Sans, Arial, sans-serif" >1500</text>
<text x="1603.5" y="1380.2" font-size="71.5" fill="#000" font-family="Liberation Sans, Arial, sans-serif" >1000</text>
<g clip-path="url(#clipb)">
<text x="566.8" y="1505.1" font-size="85.5" fill="#000" font-family="Liberation Sans, Arial, sans-serif" >Wavenumber(cm</text>
<text x="1212.1" y="1458.4" font-size="48" fill="#000" font-family="Liberation Sans, Arial, sans-serif" >-1</text>
<text x="1262.8" y="1505.1" font-size="85.5" fill="#000" font-family="Liberation Sans, Arial, sans-serif" >)</text>
</g>
</svg>
</body></html>
